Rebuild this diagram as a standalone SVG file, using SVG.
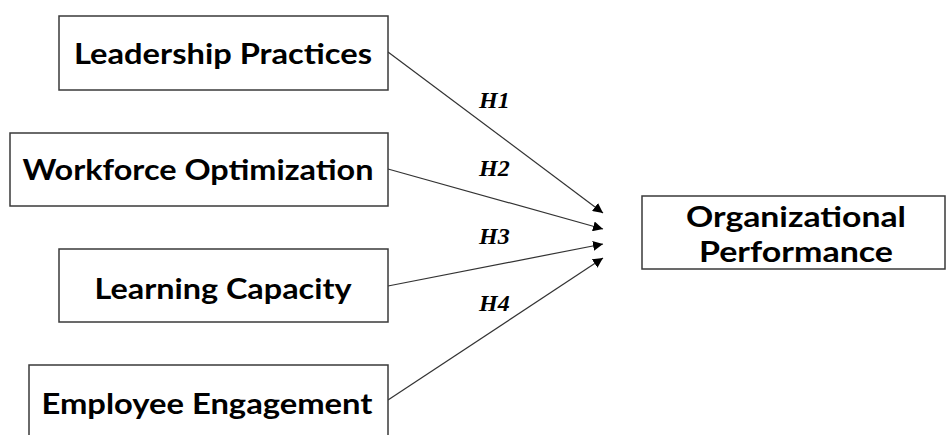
<svg xmlns="http://www.w3.org/2000/svg" width="947" height="435" viewBox="0 0 947 435">
<style>
.box{fill:#fff;stroke:#3a3a3a;stroke-width:1.5}
.t{font-family:Lato,"Open Sans","Liberation Sans",sans-serif;font-weight:700;font-size:29px;fill:#000;text-anchor:middle}
.h{font-family:"Liberation Serif","Times New Roman",serif;font-weight:700;font-style:italic;font-size:24px;fill:#000}
.c{stroke:#333;stroke-width:1.2;fill:none;marker-end:url(#ah)}
</style>
<defs>
<marker id="ah" viewBox="0 0 10 10" refX="10" refY="5" markerWidth="10" markerHeight="10" markerUnits="userSpaceOnUse" orient="auto">
<path d="M0,0 L10,5 L0,10 z" fill="#000"/>
</marker>
</defs>
<rect width="947" height="435" fill="#fff"/>
<g id="connectors">
<line class="c" x1="388" y1="52" x2="603" y2="213"/>
<line class="c" x1="388" y1="169" x2="603" y2="229"/>
<line class="c" x1="388" y1="286" x2="603" y2="244"/>
<line class="c" x1="388" y1="400" x2="603" y2="258"/>
<text class="h" x="479" y="108">H1</text>
<text class="h" x="479" y="176">H2</text>
<text class="h" x="479" y="244">H3</text>
<text class="h" x="479" y="311">H4</text>
</g>
<g id="leadership">
<rect class="box" x="59" y="16" width="329" height="74"/>
<text class="t" x="223" y="64" textLength="298" lengthAdjust="spacingAndGlyphs">Leadership Practices</text>
</g>
<g id="workforce">
<rect class="box" x="10" y="133" width="378" height="73"/>
<text class="t" x="198" y="180" textLength="351" lengthAdjust="spacingAndGlyphs">Workforce Optimization</text>
</g>
<g id="learning">
<rect class="box" x="59" y="249" width="329" height="73"/>
<text class="t" x="223" y="299" textLength="257" lengthAdjust="spacingAndGlyphs">Learning Capacity</text>
</g>
<g id="engagement">
<rect class="box" x="29" y="365" width="359" height="80"/>
<text class="t" x="207" y="414" textLength="331" lengthAdjust="spacingAndGlyphs">Employee Engagement</text>
</g>
<g id="performance">
<rect class="box" x="642" y="196" width="303" height="73"/>
<text class="t" x="796" y="227" textLength="220" lengthAdjust="spacingAndGlyphs">Organizational</text>
<text class="t" x="796" y="262" textLength="194" lengthAdjust="spacingAndGlyphs">Performance</text>
</g>
</svg>
